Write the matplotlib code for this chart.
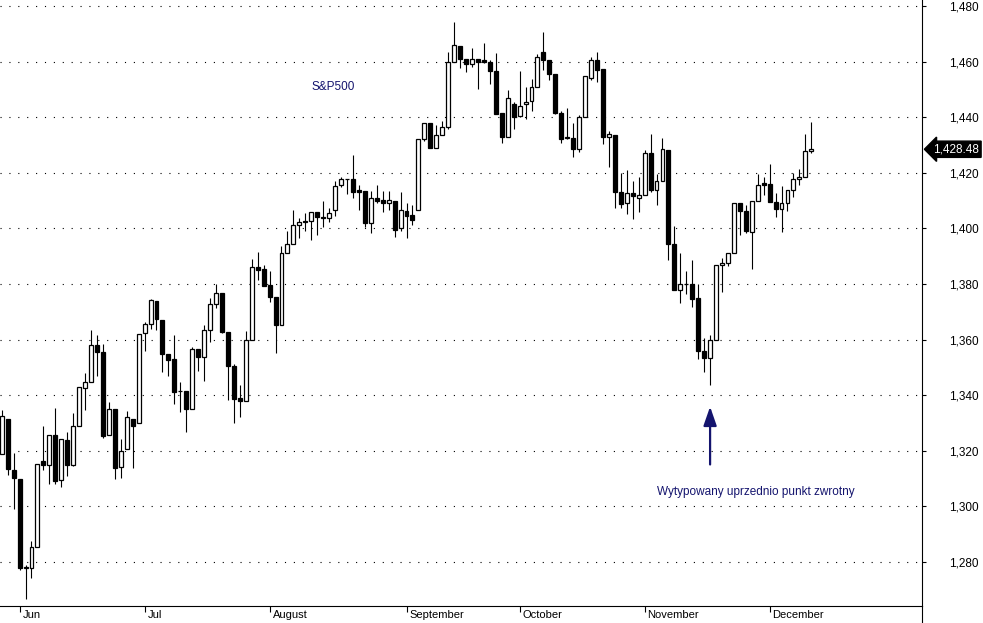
import matplotlib
matplotlib.use('Agg')
import matplotlib.pyplot as plt
import matplotlib.transforms as mtransforms
import numpy as np

# S&P500 daily candles, end of May to 12 Dec
opens = [1319.0, 1331.4, 1313.1, 1309.9, 1278.0, 1277.8, 1285.5, 1316.4, 1314.8, 1325.8,
         1309.5, 1324.0, 1314.8, 1329.1, 1342.5, 1344.7, 1358.2, 1355.5, 1325.8, 1334.9,
         1314.2, 1320.6, 1331.6, 1330.0, 1362.4, 1365.7, 1373.9, 1367.2, 1355.0, 1353.1,
         1341.5, 1341.6, 1335.0, 1356.7, 1353.7, 1363.6, 1373.0, 1376.6, 1362.6, 1350.6,
         1338.9, 1338.0, 1360.0, 1386.1, 1385.3, 1379.5, 1375.3, 1365.4, 1391.1, 1394.3,
         1401.2, 1402.8, 1402.5, 1406.0, 1404.2, 1403.7, 1406.5, 1415.7, 1417.8, 1417.8,
         1413.7, 1413.6, 1401.8, 1411.0, 1410.4, 1409.1, 1410.0, 1400.0, 1406.3, 1404.7,
         1406.6, 1432.0, 1437.8, 1429.1, 1433.5, 1436.4, 1460.0, 1465.5, 1461.1, 1459.3,
         1461.1, 1460.4, 1459.9, 1456.8, 1441.4, 1433.0, 1444.7, 1440.6, 1444.7, 1445.8,
         1450.9, 1463.6, 1460.6, 1455.6, 1441.5, 1432.7, 1432.7, 1428.7, 1440.2, 1454.2,
         1460.7, 1457.2, 1433.0, 1433.6, 1413.2, 1409.3, 1412.7, 1410.8, 1412.0, 1427.3,
         1413.8, 1417.1, 1428.1, 1394.3, 1377.7, 1379.9, 1379.9, 1374.8, 1355.8, 1353.4,
         1360.0, 1386.7, 1387.7, 1391.1, 1409.2, 1406.4, 1398.6, 1409.8, 1416.3, 1416.1,
         1409.6, 1406.9, 1409.2, 1413.9, 1417.9, 1418.6, 1427.7]
highs = [1334.8, 1331.4, 1319.4, 1309.9, 1279.0, 1287.4, 1315.2, 1328.9, 1325.8, 1335.4,
         1324.4, 1326.9, 1333.5, 1342.9, 1348.1, 1363.4, 1361.6, 1358.4, 1337.6, 1334.9,
         1324.2, 1334.2, 1331.6, 1362.2, 1366.2, 1374.7, 1373.9, 1367.2, 1355.0, 1361.6,
         1344.9, 1341.6, 1357.5, 1356.7, 1365.2, 1375.1, 1379.9, 1376.6, 1362.6, 1351.3,
         1343.7, 1363.0, 1388.9, 1391.6, 1386.7, 1384.7, 1375.3, 1393.7, 1399.2, 1406.7,
         1403.7, 1405.5, 1406.0, 1406.0, 1409.8, 1407.3, 1417.2, 1418.4, 1417.8, 1426.3,
         1415.8, 1413.6, 1413.4, 1415.8, 1413.4, 1413.4, 1410.0, 1413.0, 1409.0, 1408.6,
         1432.0, 1437.8, 1438.0, 1437.1, 1438.7, 1463.5, 1474.4, 1465.5, 1461.1, 1464.8,
         1461.1, 1466.7, 1460.5, 1463.0, 1441.4, 1449.9, 1445.5, 1456.8, 1451.0, 1453.8,
         1462.7, 1470.8, 1460.6, 1455.6, 1442.3, 1443.4, 1438.1, 1440.9, 1455.0, 1461.8,
         1463.6, 1457.2, 1435.2, 1433.6, 1419.9, 1420.9, 1416.9, 1418.4, 1428.1, 1433.9,
         1419.4, 1432.7, 1428.1, 1400.8, 1391.2, 1384.7, 1388.7, 1379.9, 1360.6, 1361.8,
         1386.9, 1389.3, 1391.1, 1409.2, 1409.2, 1408.5, 1410.0, 1419.5, 1418.4, 1423.3,
         1412.8, 1415.1, 1413.9, 1420.1, 1421.2, 1434.0, 1438.2]
lows = [1319.0, 1311.2, 1299.2, 1277.3, 1266.8, 1274.3, 1285.5, 1313.0, 1307.9, 1307.9,
        1306.9, 1310.9, 1314.4, 1329.1, 1334.8, 1344.7, 1346.8, 1324.6, 1325.8, 1309.7,
        1310.4, 1320.6, 1313.7, 1330.0, 1355.8, 1363.8, 1363.4, 1348.2, 1347.1, 1336.7,
        1333.8, 1326.9, 1335.0, 1348.9, 1345.3, 1359.1, 1371.4, 1362.4, 1338.3, 1329.9,
        1332.0, 1338.0, 1360.0, 1381.6, 1379.4, 1373.6, 1355.2, 1365.4, 1391.1, 1394.3,
        1396.4, 1398.9, 1395.8, 1397.5, 1400.6, 1402.2, 1404.3, 1415.0, 1412.4, 1410.8,
        1406.7, 1400.6, 1398.2, 1409.3, 1405.8, 1406.6, 1397.0, 1399.2, 1396.7, 1401.3,
        1406.6, 1431.5, 1429.1, 1429.1, 1433.5, 1435.6, 1460.0, 1457.7, 1456.2, 1458.2,
        1450.0, 1459.5, 1452.1, 1441.2, 1430.8, 1433.0, 1435.9, 1440.0, 1439.3, 1442.1,
        1450.9, 1457.0, 1453.3, 1441.2, 1430.8, 1432.0, 1425.7, 1427.5, 1440.2, 1453.3,
        1452.7, 1430.2, 1422.1, 1407.5, 1407.2, 1405.3, 1403.5, 1405.9, 1412.0, 1413.2,
        1408.4, 1417.1, 1388.5, 1377.7, 1373.2, 1376.3, 1371.8, 1353.1, 1348.3, 1343.7,
        1360.0, 1377.2, 1386.5, 1391.1, 1397.7, 1398.2, 1385.5, 1409.8, 1411.9, 1409.4,
        1404.0, 1398.6, 1406.2, 1411.2, 1415.8, 1418.6, 1427.0]
closes = [1332.4, 1313.3, 1310.4, 1278.0, 1278.3, 1285.5, 1315.2, 1314.8, 1325.8, 1309.0,
          1324.4, 1314.8, 1329.1, 1342.9, 1344.7, 1358.2, 1355.5, 1325.5, 1335.2, 1313.7,
          1320.0, 1332.0, 1329.1, 1362.2, 1365.5, 1374.2, 1367.5, 1355.0, 1352.5, 1341.3,
          1341.6, 1334.9, 1356.7, 1353.7, 1363.6, 1373.0, 1376.6, 1362.6, 1350.6, 1338.5,
          1338.0, 1360.0, 1386.1, 1385.2, 1379.4, 1375.4, 1365.1, 1391.1, 1394.3, 1401.2,
          1402.3, 1402.3, 1406.0, 1404.0, 1403.6, 1405.5, 1415.3, 1417.8, 1417.8, 1413.0,
          1413.0, 1401.8, 1411.0, 1409.9, 1409.1, 1410.4, 1399.4, 1406.6, 1404.6, 1403.1,
          1432.0, 1437.8, 1429.1, 1433.5, 1436.4, 1460.0, 1465.9, 1461.1, 1459.3, 1461.1,
          1460.0, 1459.8, 1456.6, 1441.2, 1433.0, 1446.9, 1440.1, 1444.2, 1445.5, 1450.9,
          1461.5, 1460.6, 1455.6, 1441.5, 1432.1, 1432.7, 1428.4, 1440.0, 1455.0, 1460.7,
          1457.0, 1433.0, 1433.8, 1413.0, 1408.7, 1412.7, 1411.5, 1412.0, 1427.3, 1413.9,
          1417.0, 1428.5, 1394.4, 1377.7, 1379.9, 1379.9, 1374.5, 1355.8, 1353.4, 1360.0,
          1386.9, 1387.7, 1391.1, 1409.2, 1406.2, 1398.9, 1410.0, 1415.8, 1415.6, 1409.4,
          1406.9, 1409.2, 1413.9, 1417.9, 1418.6, 1427.7, 1428.4]

month_labels = ['Jun', 'Jul', 'August', 'September', 'October', 'November', 'December']
month_start = [3, 24, 45, 68, 87, 108, 129]   # candle index of first session in month
price_ticks = list(range(1280, 1481, 20))
last_close = 1428.48

navy = '#14146e'
plt.rcParams['font.family'] = ['Liberation Sans', 'DejaVu Sans']

o = np.array(opens); h = np.array(highs); l = np.array(lows); c = np.array(closes)
x = np.arange(len(o))
up = c >= o

fig = plt.figure(figsize=(9.83, 6.23), dpi=100)
ax = fig.add_axes([0, 17 / 623, 922 / 983, 606 / 623])

# wicks then bodies
ax.vlines(x, l, h, color='black', lw=0.8, zorder=2)
ax.bar(x, np.maximum(np.abs(c - o), 0.15), bottom=np.minimum(o, c), width=0.66,
       color=np.where(up, 'white', 'black'), edgecolor='black', linewidth=0.9, zorder=3)

ax.set_xlim(-0.29, 154.6)
ax.set_ylim(1264.2, 1482.16)

ax.set_yticks(price_ticks)
ax.set_yticklabels([f'{v:,}' for v in price_ticks])
ax.yaxis.tick_right()
ax.tick_params(axis='y', length=3, width=0.8, pad=38, labelsize=8.5)
for t in ax.get_yticklabels():
    t.set_ha('right')
ax.grid(axis='y', linestyle=(0, (1, 7)), color='black', lw=0.8)

ax.set_xticks(month_start)
ax.set_xticklabels(month_labels)
ax.tick_params(axis='x', length=4, width=0.8, pad=0, labelsize=8)
shift = mtransforms.ScaledTranslation(3 / 100, 2 / 100, fig.dpi_scale_trans)
for t in ax.get_xticklabels():
    t.set_ha('left')
    t.set_transform(t.get_transform() + shift)

for s in ['top', 'left']:
    ax.spines[s].set_visible(False)
for s in ['right', 'bottom']:
    ax.spines[s].set_linewidth(0.8)
fig.add_artist(plt.Line2D([922 / 983, 922 / 983], [0, 17 / 623], color='black', lw=0.8))

# last price tag
trans = mtransforms.blended_transform_factory(ax.transAxes, ax.transData)
ax.text(1.0618, last_close, f'{last_close:,.2f}', transform=trans, color='white', fontsize=8.5,
        ha='right', va='center', clip_on=False,
        bbox=dict(boxstyle='larrow,pad=0.18', fc='black', ec='black'))

ax.text(55.6, 1450.9, 'S&P500', color=navy, fontsize=8.5, ha='center', va='center')
ax.annotate('', xy=(119, 1335.9), xytext=(119, 1315.1),
            arrowprops=dict(arrowstyle='-|>,head_length=1.15,head_width=0.4', color=navy,
                            lw=1.6, shrinkA=0, shrinkB=0, mutation_scale=10))
ax.text(126.6, 1305.2, 'Wytypowany uprzednio punkt zwrotny', color=navy, fontsize=8.5,
        ha='center', va='center')

fig.savefig('out.png', dpi=100)
